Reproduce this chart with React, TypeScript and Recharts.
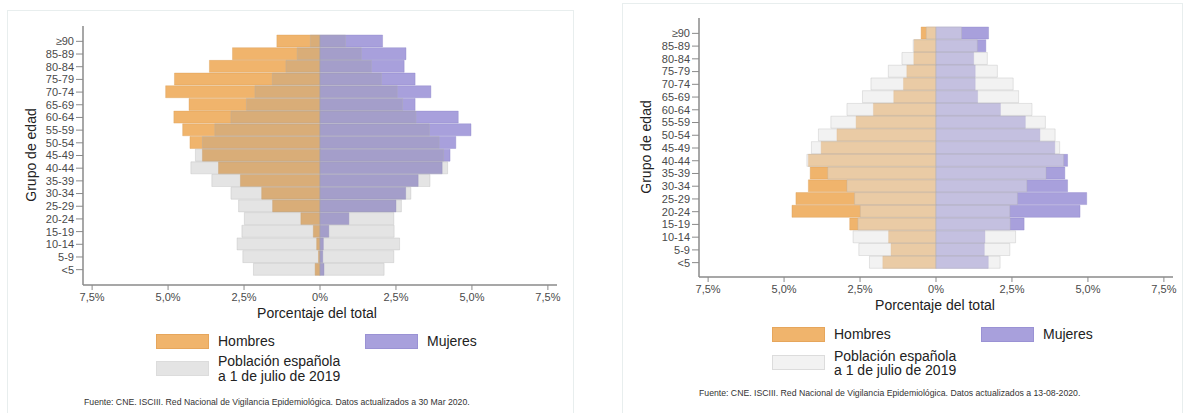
import React from 'react';
import { BarChart, Bar, XAxis, YAxis } from 'recharts';

const AGE_GROUPS = [
  '≥90', '85-89', '80-84', '75-79', '70-74', '65-69', '60-64', '55-59', '50-54', '45-49',
  '40-44', '35-39', '30-34', '25-29', '20-24', '15-19', '10-14', '5-9', '<5',
];

// % of total cases, by sex (top row = ≥90)
const MEN_CASES_MAR = [1.42, 2.88, 3.64, 4.79, 5.08, 4.31, 4.81, 4.52, 4.28, 3.87, 3.34, 2.62, 1.92, 1.56, 0.63, 0.22, 0.11, 0.05, 0.16];
const WOMEN_CASES_MAR = [2.06, 2.83, 2.77, 3.13, 3.65, 3.13, 4.55, 4.97, 4.47, 4.28, 4.02, 3.23, 2.82, 2.5, 0.95, 0.29, 0.11, 0.09, 0.13];
const MEN_CASES_AUG = [0.49, 0.72, 0.73, 0.96, 1.07, 1.39, 2.06, 2.63, 3.26, 3.78, 4.2, 4.14, 4.2, 4.61, 4.74, 2.84, 1.56, 1.48, 1.75];
const WOMEN_CASES_AUG = [1.73, 1.64, 1.24, 1.29, 1.29, 1.37, 2.12, 2.94, 3.42, 3.91, 4.33, 4.24, 4.33, 4.96, 4.74, 2.9, 1.61, 1.59, 1.72];

// Población española a 1 de julio de 2019
const MEN_POP = [0.32, 0.75, 1.12, 1.57, 2.14, 2.42, 2.93, 3.46, 3.87, 4.1, 4.25, 3.56, 2.93, 2.68, 2.49, 2.57, 2.73, 2.54, 2.19];
const WOMEN_POP = [0.84, 1.36, 1.69, 2.02, 2.54, 2.72, 3.16, 3.6, 3.92, 4.07, 4.2, 3.62, 2.99, 2.68, 2.43, 2.44, 2.62, 2.43, 2.11];

const X_TICKS = [-7.5, -5, -2.5, 0, 2.5, 5, 7.5];

const ORANGE = '#F0B46C';
const PURPLE = '#A8A0DC';
const FONT = '"Liberation Sans", Arial, sans-serif';

const buildRows = (men: number[], women: number[]) =>
  AGE_GROUPS.map((age, i) => ({
    age,
    menCases: -men[i],
    womenCases: women[i],
    menPop: -MEN_POP[i],
    womenPop: WOMEN_POP[i],
  }));

const fmtPct = (v: number) => (v === 0 ? '0%' : `${Math.abs(v).toFixed(1).replace('.', ',')}%`);

interface PyramidProps {
  data: ReturnType<typeof buildRows>;
  left: number;
  margin: { top: number; right: number; bottom: number; left: number };
  popFill: string;
  popOpacity: number;
  padTop: number;
  padBottom: number;
}

function Pyramid({ data, left, margin, popFill, popOpacity, padTop, padBottom }: PyramidProps) {
  const tick = { fill: '#4a4a4a', fontSize: 11, fontFamily: FONT };
  return (
    <div style={{ position: 'absolute', left, top: 0 }}>
      <BarChart width={583} height={320} data={data} layout="vertical" margin={margin} barSize={12} barGap={-12}>
        <XAxis
          type="number"
          domain={[-7.8, 7.8]}
          ticks={X_TICKS}
          tickFormatter={fmtPct}
          allowDataOverflow
          height={30}
          tick={tick}
          tickSize={5}
          tickMargin={3}
          axisLine={{ stroke: '#8a8a8a', strokeWidth: 1.5 }}
          tickLine={{ stroke: '#8a8a8a' }}
        />
        <YAxis
          type="category"
          dataKey="age"
          width={73}
          interval={0}
          padding={{ top: padTop, bottom: padBottom }}
          tick={tick}
          tickSize={7}
          tickMargin={2}
          axisLine={{ stroke: '#8a8a8a', strokeWidth: 1.5 }}
          tickLine={{ stroke: '#8a8a8a' }}
        />
        <Bar dataKey="menCases" fill={ORANGE} stroke="#D99A50" strokeOpacity={0.45} strokeWidth={0.8} isAnimationActive={false} />
        <Bar dataKey="womenCases" fill={PURPLE} stroke="#8A82C8" strokeOpacity={0.45} strokeWidth={0.8} isAnimationActive={false} />
        <Bar dataKey="menPop" fill={popFill} fillOpacity={popOpacity} stroke="#b0b0b0" strokeOpacity={0.4} strokeWidth={0.8} isAnimationActive={false} />
        <Bar dataKey="womenPop" fill={popFill} fillOpacity={popOpacity} stroke="#b0b0b0" strokeOpacity={0.4} strokeWidth={0.8} isAnimationActive={false} />
      </BarChart>
    </div>
  );
}

const abs = (x: number, y: number, extra: React.CSSProperties = {}): React.CSSProperties => ({
  position: 'absolute',
  left: x,
  top: y,
  fontFamily: FONT,
  color: '#222',
  whiteSpace: 'nowrap',
  ...extra,
});

function Legend({ x, y, popColor, rowGap, lineH, textTop }: { x: number; y: number; popColor: string; rowGap: number; lineH: number; textTop: number }) {
  const sw = (sx: number, sy: number, c: string, border: string) => (
    <div style={{ position: 'absolute', left: sx, top: sy, width: 53, height: 15, background: c, boxShadow: `inset 0 0 0 1px ${border}` }} />
  );
  return (
    <>
      {sw(x, y, ORANGE, '#E6A65C')}
      <div style={abs(x + 62, y - 1, { fontSize: 14, lineHeight: '17px' })}>Hombres</div>
      {sw(x + 209, y, PURPLE, '#9A92D4')}
      <div style={abs(x + 271, y - 1, { fontSize: 14, lineHeight: '17px' })}>Mujeres</div>
      {sw(x, y + rowGap, popColor, '#dcdcdc')}
      <div style={abs(x + 62, textTop, { fontSize: 14, lineHeight: `${lineH}px` })}>
        Población española
        <br />
        a 1 de julio de 2019
      </div>
    </>
  );
}

export default function App() {
  const marRows = buildRows(MEN_CASES_MAR, WOMEN_CASES_MAR);
  const augRows = buildRows(MEN_CASES_AUG, WOMEN_CASES_AUG);
  return (
    <div style={{ position: 'fixed', left: 0, top: 0, width: 1183, height: 413, background: '#fff', overflow: 'hidden' }}>
      <div style={{ position: 'absolute', left: 7, top: 10, width: 565, height: 420, border: '1px solid #E8EEEE' }} />
      <div style={{ position: 'absolute', left: 622, top: 3, width: 559, height: 420, border: '1px solid #E8EEEE' }} />

      <Pyramid
        data={marRows}
        left={0}
        margin={{ top: 26, right: 26, bottom: 5, left: 10 }}
        popFill="#9B9B9B"
        popOpacity={0.27}
        padTop={9}
        padBottom={9}
      />
      <Pyramid
        data={augRows}
        left={600}
        margin={{ top: 18, right: 10, bottom: 13, left: 26 }}
        popFill="#E4E4E4"
        popOpacity={0.48}
        padTop={9}
        padBottom={8}
      />

      <div style={abs(31, 155, { fontSize: 14, transform: 'translate(-50%, -50%) rotate(-90deg)' })}>Grupo de edad</div>
      <div style={abs(646, 147, { fontSize: 14, transform: 'translate(-50%, -50%) rotate(-90deg)' })}>Grupo de edad</div>

      <div style={abs(317, 313, { fontSize: 14, transform: 'translate(-50%, -50%)' })}>Porcentaje del total</div>
      <div style={abs(935, 305, { fontSize: 14, transform: 'translate(-50%, -50%)' })}>Porcentaje del total</div>

      <Legend x={156} y={334} popColor="#E4E4E4" rowGap={27} lineH={15} textTop={354} />
      <Legend x={772} y={327} popColor="#F2F2F2" rowGap={28} lineH={14} textTop={348.5} />

      <div style={abs(84, 402, { fontSize: 8.7, transform: 'translateY(-50%)', color: '#333' })}>
        Fuente: CNE. ISCIII. Red Nacional de Vigilancia Epidemiológica. Datos actualizados a 30 Mar 2020.
      </div>
      <div style={abs(699, 393, { fontSize: 8.7, transform: 'translateY(-50%)', color: '#333' })}>
        Fuente: CNE. ISCIII. Red Nacional de Vigilancia Epidemiológica. Datos actualizados a 13-08-2020.
      </div>
    </div>
  );
}
